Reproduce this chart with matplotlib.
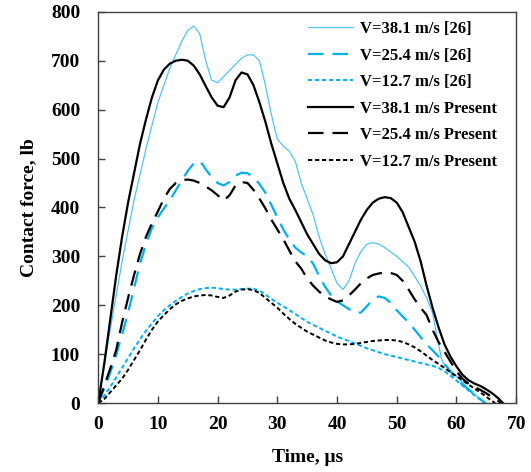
import numpy as np
import matplotlib
matplotlib.use("Agg")
import matplotlib.pyplot as plt

plt.rcParams["font.family"] = ["Liberation Serif", "DejaVu Serif"]
plt.rcParams["font.weight"] = "bold"

# V=38.1 m/s [26]
t_ref381 = [0, 2, 4, 6, 8, 10, 12, 14, 15, 16, 17, 18, 19, 20, 22, 24, 25, 26, 27, 28,
            29, 30, 31, 32, 33, 34, 36, 37, 38, 40, 41, 42, 43, 44, 45, 46, 47, 48, 50,
            52, 54, 55, 56, 57, 57.5, 58, 60, 62, 64, 65]
f_ref381 = [0, 150, 290, 415, 520, 615, 685, 740, 762, 771, 755, 700, 660, 655, 680, 705,
            712, 712, 700, 650, 590, 540, 525, 515, 495, 450, 385, 340, 305, 245, 232, 250,
            285, 310, 325, 328, 325, 318, 300, 278, 240, 215, 185, 120, 90, 78, 55, 30, 8, 0]

# V=25.4 m/s [26]
t_ref254 = [0, 1, 2, 3, 4, 5, 6, 7, 8, 9, 10, 11, 12, 13, 14, 15, 16, 16.8, 17.5, 18, 19,
            20, 21, 22, 23, 24, 25, 26, 27, 28, 29, 30, 31, 32, 33, 34, 35, 36, 37, 38, 39,
            40, 41, 42, 43, 44, 45, 46, 47, 48, 49, 50, 51, 52, 53, 54, 55, 56, 57, 58, 59,
            60, 61, 62, 63, 64, 64.8]
f_ref254 = [0, 30, 62, 98, 140, 185, 235, 285, 325, 358, 380, 398, 415, 435, 455, 475, 490,
            495, 488, 478, 462, 450, 445, 452, 465, 471, 470, 462, 448, 430, 405, 380, 355,
            335, 318, 308, 300, 285, 260, 238, 220, 208, 200, 192, 185, 185, 198, 212, 218,
            215, 205, 190, 177, 165, 150, 135, 120, 108, 95, 80, 65, 48, 38, 28, 18, 8, 0]

# V=12.7 m/s [26]
t_ref127 = [0, 1, 2, 3, 4, 5, 6, 7, 8, 9, 10, 11, 12, 13, 14, 15, 16, 17, 18, 19, 20, 21,
            22, 23, 24, 25, 26, 27, 28, 29, 30, 31, 32, 33, 34, 35, 36, 37, 38, 39, 40, 41,
            42, 43, 44, 45, 46, 47, 48, 49, 50, 51, 52, 53, 54, 55, 56, 57, 58, 59, 60, 61,
            62, 63, 64, 64.8]
f_ref127 = [0, 15, 33, 52, 72, 92, 112, 130, 148, 163, 178, 190, 200, 209, 217, 224, 229,
            233, 235, 236, 235, 233, 232, 232, 233, 234, 234, 230, 222, 213, 205, 198, 190,
            182, 174, 166, 160, 154, 148, 142, 136, 131, 127, 122, 117, 112, 108, 104, 100,
            97, 94, 91, 88, 85, 82, 79, 76, 72, 65, 56, 46, 36, 26, 16, 7, 0]

# V=38.1 m/s Present
t_pr381 = [0, 1, 2, 3, 4, 5, 6, 7, 8, 9, 10, 11, 12, 13, 14, 15, 16, 17, 18, 19, 20, 21,
           22, 23, 24, 25, 26, 27, 28, 29, 30, 31, 32, 33, 34, 35, 36, 37, 38, 39, 40, 41,
           42, 43, 44, 45, 46, 47, 48, 49, 50, 51, 52, 53, 54, 55, 56, 57, 58, 59, 60, 61,
           62, 63, 64, 65, 66, 67, 67.8]
f_pr381 = [0, 80, 170, 260, 340, 410, 470, 530, 580, 625, 660, 682, 694, 700, 702, 700, 690,
           672, 648, 625, 608, 605, 625, 660, 676, 672, 650, 615, 575, 530, 490, 450, 418,
           395, 370, 345, 325, 305, 292, 286, 288, 300, 325, 350, 375, 395, 410, 418, 421,
           419, 410, 390, 360, 330, 290, 240, 195, 155, 120, 95, 75, 58, 47, 40, 35, 28, 20,
           10, 0]

# V=25.4 m/s Present
t_pr254 = [0, 1, 2, 3, 4, 5, 6, 7, 8, 9, 10, 11, 12, 13, 14, 15, 16, 17, 18, 19, 20, 21,
           22, 23, 24, 25, 26, 27, 28, 29, 30, 31, 32, 33, 34, 35, 36, 37, 38, 39, 40, 41,
           42, 43, 44, 45, 46, 47, 48, 49, 50, 51, 52, 53, 54, 55, 56, 57, 58, 59, 60, 61,
           62, 63, 64, 65, 66, 67, 67.5]
f_pr254 = [0, 35, 70, 108, 165, 215, 262, 305, 340, 368, 392, 418, 438, 450, 456, 457, 455,
           450, 443, 435, 425, 414, 425, 445, 452, 450, 436, 418, 398, 375, 355, 335, 312,
           290, 275, 255, 240, 228, 218, 212, 207, 210, 220, 232, 245, 255, 262, 265, 267,
           266, 262, 250, 232, 212, 195, 180, 150, 125, 105, 85, 65, 50, 40, 33, 27, 20, 12,
           4, 0]

# V=12.7 m/s Present
t_pr127 = [0, 1, 2, 3, 4, 5, 6, 7, 8, 9, 10, 11, 12, 13, 14, 15, 16, 17, 18, 19, 20, 21,
           22, 23, 24, 25, 26, 27, 28, 29, 30, 31, 32, 33, 34, 35, 36, 37, 38, 39, 40, 41,
           42, 43, 44, 45, 46, 47, 48, 49, 50, 51, 52, 53, 54, 55, 56, 57, 58, 59, 60, 61,
           62, 63, 64, 65, 66, 66.5]
f_pr127 = [0, 8, 22, 36, 50, 68, 88, 108, 130, 150, 167, 180, 192, 202, 209, 214, 218, 220,
           221, 220, 217, 215, 220, 228, 232, 233, 231, 225, 215, 205, 195, 183, 172, 162,
           154, 146, 140, 134, 128, 124, 121, 120, 120, 121, 123, 125, 127, 128, 129, 129,
           128, 125, 120, 114, 106, 97, 88, 80, 72, 63, 55, 47, 38, 30, 22, 13, 4, 0]

blue_thin = "#4FC3F7"
blue = "#00B0F0"

fig = plt.figure(figsize=(5.31, 4.72), dpi=100)
ax = fig.add_axes([0.185, 0.146, 0.787, 0.829])

ax.plot(t_ref381, f_ref381, color=blue_thin, lw=0.9, label="V=38.1 m/s [26]")
ax.plot(t_ref254, f_ref254, color=blue, lw=1.6, dashes=(7, 4), label="V=25.4 m/s [26]")
ax.plot(t_ref127, f_ref127, color=blue, lw=1.4, dashes=(2.2, 1.4), label="V=12.7 m/s [26]")
ax.plot(t_pr381, f_pr381, color="black", lw=1.6, label="V=38.1 m/s Present")
ax.plot(t_pr254, f_pr254, color="black", lw=1.6, dashes=(7, 4), label="V=25.4 m/s Present")
ax.plot(t_pr127, f_pr127, color="black", lw=1.4, dashes=(2.2, 1.4), label="V=12.7 m/s Present")

ax.set_xlim(0, 70)
ax.set_ylim(0, 800)
ax.set_xticks(range(0, 71, 10))
ax.set_yticks(range(0, 801, 100))
ax.tick_params(direction="in", labelsize=14, length=5, width=1, colors="#404040",
               labelcolor="black")
ax.tick_params(axis="y", pad=13)
ax.tick_params(axis="x", pad=9)
for lab in ax.get_xticklabels() + ax.get_yticklabels():
    lab.set_fontweight("bold")
for s in ax.spines.values():
    s.set_color("#404040")
    s.set_linewidth(1)

ax.set_xlabel("Time, μs", fontsize=14, fontweight="bold", labelpad=12)
ax.set_ylabel("Contact force, lb", fontsize=14, fontweight="bold", labelpad=10)

leg = ax.legend(loc="upper left", bbox_to_anchor=(0.502, 0.976), borderaxespad=0,
                borderpad=0, frameon=False, handlelength=2.7, labelspacing=0.63,
                handletextpad=0.42, prop={"weight": "bold", "size": 12})

fig.savefig("out.png", dpi=100)
